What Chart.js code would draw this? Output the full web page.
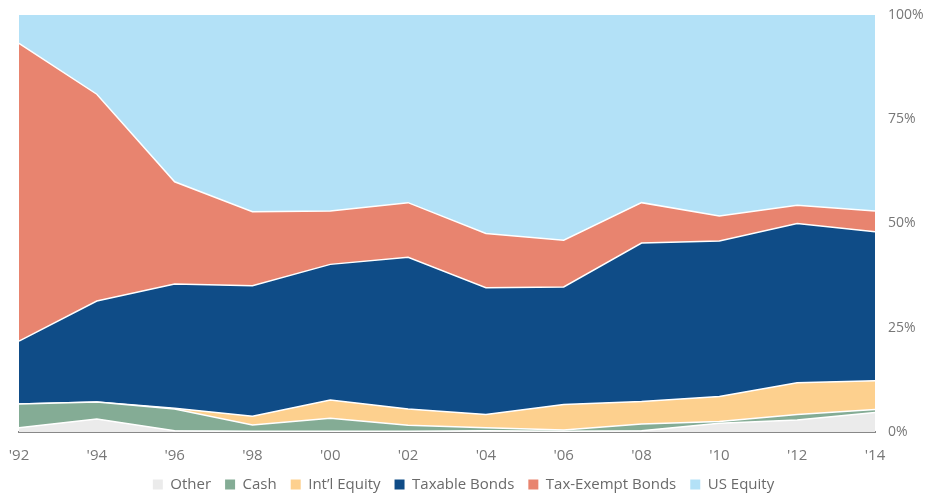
<!DOCTYPE html>
<html>
<head>
<meta charset="utf-8">
<script src="https://cdn.jsdelivr.net/npm/chart.js@4/dist/chart.umd.min.js"></script>
<style>
html,body{margin:0;padding:0;background:#fff;}
#wrap{width:927px;height:495px;position:relative;}
</style>
</head>
<body>
<div id="wrap"><canvas id="c" width="927" height="495"></canvas></div>
<script>
const categories = ["'92","'94","'96","'98","'00","'02","'04","'06","'08","'10","'12","'14"];
const other       = [1.0, 3.1, 0.3, 0.2, 0.2, 0.2, 0.3, 0.2, 0.3, 2.1, 2.9, 4.7];
const cash        = [5.7, 4.1, 5.2, 1.5, 3.1, 1.4, 0.7, 0.3, 1.6, 0.4, 1.3, 0.7];
const intlEquity  = [0.0, 0.0, 0.2, 2.1, 4.4, 3.9, 3.2, 6.1, 5.4, 6.0, 7.6, 6.9];
const taxableBonds= [15.1, 24.2, 29.8, 31.3, 32.5, 36.4, 30.4, 28.2, 38.0, 37.3, 38.2, 35.7];
const taxExempt   = [71.4, 49.6, 24.5, 17.7, 12.8, 13.1, 13.0, 11.2, 9.7, 6.0, 4.4, 5.0];
const usEquity    = [6.8, 19.0, 40.0, 47.2, 47.0, 45.0, 52.4, 54.0, 45.0, 48.2, 45.6, 47.0];
const yTicks = [0, 25, 50, 75, 100];

const seriesNames = ["Other","Cash","Int\u2019l Equity","Taxable Bonds","Tax-Exempt Bonds","US Equity"];
const seriesData = [other, cash, intlEquity, taxableBonds, taxExempt, usEquity];
const seriesColors = ["#EBEBEB","#84AC95","#FDD08E","#0F4C87","#E8846F","#B3E1F7"];

const datasets = seriesNames.map((n,i)=>({
  label: n,
  data: seriesData[i],
  backgroundColor: seriesColors[i],
  borderColor: i === 5 ? seriesColors[i] : "#ffffff",
  borderWidth: i === 5 ? 0 : 1.5,
  pointRadius: 0,
  pointHoverRadius: 0,
  tension: 0,
  fill: i === 0 ? 'origin' : '-1'
}));

const legendHeightPlugin = {
  id: 'legendHeight',
  beforeLayout(chart){
    const lg = chart.legend;
    if (lg && !lg._patched) {
      const f = lg.fit;
      lg.fit = function(){ f.call(this); this.height = 32; };
      lg._patched = true;
    }
  }
};

new Chart(document.getElementById('c'), {
  type: 'line',
  data: { labels: categories, datasets },
  plugins: [legendHeightPlugin],
  options: {
    responsive: false,
    animation: false,
    layout: { padding: 0 },
    plugins: {
      legend: {
        position: 'bottom',
        labels: {
          boxWidth: 10, boxHeight: 10, padding: 14,
          color: '#6a6a6a',
          font: { family: 'Open Sans', size: 15 },
          generateLabels(chart){
            return chart.data.datasets.map((d,i)=>({
              text: d.label, fillStyle: d.backgroundColor, strokeStyle: d.backgroundColor,
              lineWidth: 0, hidden: false, datasetIndex: i, fontColor: '#6a6a6a'
            }));
          }
        }
      },
      tooltip: { enabled: false }
    },
    scales: {
      x: {
        offset: false,
        grid: { display: false, drawTicks: false },
        border: { display: true, color: '#888', width: 2 },
        ticks: { color: '#777', font: { family: 'Open Sans', size: 15 }, padding: 15, maxRotation: 0, autoSkip: false },
        afterFit(scale){ scale.height = 31; scale.paddingLeft = 19; scale.paddingRight = 0; }
      },
      y: {
        position: 'right',
        stacked: true,
        min: 0, max: 100,
        afterBuildTicks(axis){ axis.ticks = yTicks.map(v=>({value:v})); },
        grid: { display: false, drawTicks: false },
        border: { display: false },
        ticks: { color: '#777', font: { family: 'Open Sans', size: 14 }, padding: 13, callback: v => v + '%' },
        afterFit(scale){ scale.width = 52; scale.paddingTop = 15; scale.paddingBottom = 0; }
      }
    }
  }
});
</script>
</body>
</html>
